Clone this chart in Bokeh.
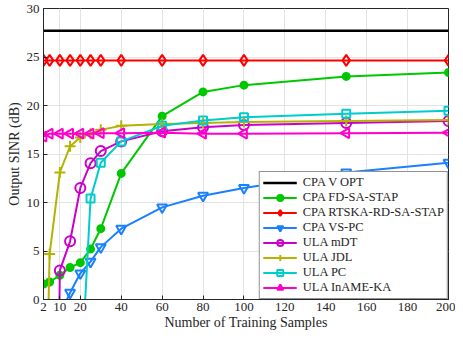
import math
from bokeh.plotting import figure
from bokeh.models import Range1d, FixedTicker, Legend, LegendItem
from bokeh.embed import file_html
from bokeh.resources import INLINE

# ---- data ----
x_all = [2, 5, 10, 15, 20, 25, 30, 40, 60, 80, 100, 150, 200]

opt_x = [2, 200]
opt_y = [27.7, 27.7]

fd_x = x_all
fd_y = [1.6, 1.8, 2.5, 3.3, 3.8, 5.2, 7.3, 13.0, 18.9, 21.4, 22.1, 23.0, 23.4]

rtska_x = x_all
rtska_y = [24.65, 24.65, 24.65, 24.65, 24.65, 24.65, 24.65, 24.65, 24.65, 24.65, 24.65, 24.65, 24.65]

vspc_x = [5, 10, 15, 20, 25, 30, 40, 60, 80, 100, 150, 200]
vspc_y = [-8.0, -1.6, 0.7, 2.7, 3.9, 5.4, 7.3, 9.5, 10.7, 11.5, 13.1, 14.1]

mdt_x = [5, 10, 15, 20, 25, 30, 40, 60, 80, 100, 150, 200]
mdt_y = [-80.0, 3.0, 6.0, 11.5, 14.05, 15.3, 16.3, 17.35, 17.75, 18.0, 18.2, 18.4]

jdl_x = x_all
jdl_y = [-24.0, 4.7, 13.1, 15.8, 16.7, 17.1, 17.5, 17.9, 18.1, 18.2, 18.3, 18.4, 18.5]

pc_x = [15, 20, 25, 30, 40, 60, 80, 100, 150, 200]
pc_y = [-30.0, -9.6, 10.4, 14.1, 16.3, 17.9, 18.45, 18.8, 19.15, 19.45]

iname_x = x_all
iname_y = [16.8, 17.1, 17.1, 17.1, 17.1, 17.1, 17.15, 17.15, 17.2, 17.1, 17.1, 17.15, 17.2]

x_ticks = [2, 10, 20, 40, 60, 80, 100, 120, 140, 160, 180, 200]
y_ticks = [0, 5, 10, 15, 20, 25, 30]

FONT = "Liberation Serif"
AX = "#262626"

p = figure(width=455, height=332, output_backend="svg", toolbar_location=None,
           x_range=Range1d(2, 200), y_range=Range1d(0, 30),
           min_border_left=43, min_border_right=7, min_border_top=8, min_border_bottom=30)

p.outline_line_color = AX
p.outline_line_width = 1

for ax in (p.xaxis[0], p.yaxis[0]):
    ax.major_label_text_font = FONT
    ax.major_label_text_font_size = "13px"
    ax.major_label_text_color = AX
    ax.axis_label_text_font = FONT
    ax.axis_label_text_font_size = "14px"
    ax.axis_label_text_font_style = "normal"
    ax.axis_label_text_color = AX
    ax.axis_line_color = AX
    ax.major_tick_line_color = AX
    ax.major_tick_in = 4
    ax.major_tick_out = 0
    ax.minor_tick_line_color = None
    ax.major_label_standoff = 4
    ax.axis_label_standoff = 2

p.xaxis[0].major_label_standoff = 3
p.xaxis[0].axis_label_standoff = 1

p.xaxis[0].ticker = FixedTicker(ticks=x_ticks)
p.yaxis[0].ticker = FixedTicker(ticks=y_ticks)
p.xaxis[0].axis_label = "Number of Training Samples"
p.yaxis[0].axis_label = "Output SINR (dB)"

p.xgrid[0].ticker = FixedTicker(ticks=x_ticks)
p.ygrid[0].ticker = FixedTicker(ticks=y_ticks)
p.grid.grid_line_color = "#e3e3e3"
p.grid.grid_line_width = 1

items = []

r = p.line(opt_x, opt_y, line_color="black", line_width=2.5)
items.append(LegendItem(label="CPA V OPT", renderers=[r]))

def series(xs, ys, color, marker, size, label, fill=False, angle=0.0, lw=2):
    l = p.line(xs, ys, line_color=color, line_width=lw)
    s = p.scatter(xs, ys, marker=marker, size=size, line_color=color, line_width=2,
                  fill_color=color if fill else None, angle=angle)
    items.append(LegendItem(label=label, renderers=[l, s]))

series(fd_x, fd_y, "#00c800", "circle", 7, "CPA FD-SA-STAP", fill=True)
series(rtska_x, rtska_y, "#ff0000", "diamond", 11, "CPA RTSKA-RD-SA-STAP")
series(vspc_x, vspc_y, "#1a80ff", "inverted_triangle", 10, "CPA VS-PC")
series(mdt_x, mdt_y, "#cc00cc", "circle", 10, "ULA mDT")
series(jdl_x, jdl_y, "#b3b300", "cross", 11, "ULA JDL")
series(pc_x, pc_y, "#00cccc", "square", 8, "ULA PC")
series(iname_x, iname_y, "#ff00cc", "triangle", 10, "ULA InAME-KA", angle=math.pi / 2)

legend = Legend(items=items, location="bottom_right")
legend.label_text_font = FONT
legend.label_text_font_size = "12.5px"
legend.label_text_color = AX
legend.border_line_color = AX
legend.border_line_width = 1
legend.background_fill_color = "white"
legend.background_fill_alpha = 1.0
legend.margin = 0
legend.padding = 3
legend.spacing = 0
legend.glyph_width = 34
legend.glyph_height = 15
legend.label_height = 15
legend.label_standoff = 6
p.add_layout(legend, "center")

open("out.html", "w").write(file_html(p, INLINE))
